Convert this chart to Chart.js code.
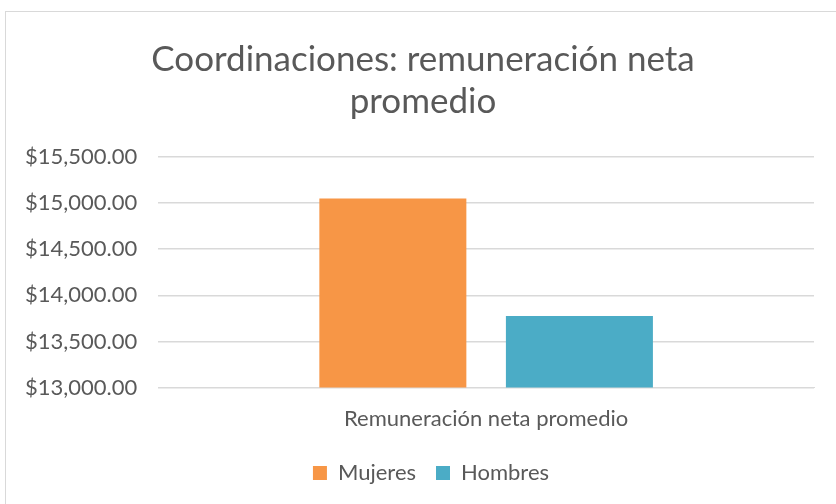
<!DOCTYPE html>
<html>
<head>
<meta charset="utf-8">
<script src="https://cdn.jsdelivr.net/npm/chart.js@4"></script>
<style>
  html, body { margin: 0; padding: 0; background: #fff; }
  #frame { position: absolute; left: 5px; top: 11px; width: 840px; height: 500px; border: 1px solid #d9d9d9; }
  #wrap { position: absolute; left: 0; top: 0; width: 836px; height: 504px; }
</style>
</head>
<body>
<div id="frame"></div>
<div id="wrap"><canvas id="c"></canvas></div>
<script>
// datos
const categorias = ['Remuneración neta promedio'];
const mujeres = [15050];
const hombres = [13775];
const yTicks = [13000, 13500, 14000, 14500, 15000, 15500];

const FONT = 'Lato, "Open Sans", sans-serif';
const GRIS = '#595959';

// corre título y leyenda un poco a la derecha (como en Excel)
const desplazar = {
  id: 'desplazar',
  afterLayout(chart) {
    const t = chart.titleBlock, l = chart.legend;
    if (t) { t.left += 14; t.right += 14; }
    if (l) { l.left += 22; l.right += 22; }
  },
};

new Chart(document.getElementById('c'), {
  type: 'bar',
  data: {
    labels: categorias,
    datasets: [
      { label: 'Mujeres', data: mujeres, backgroundColor: '#f79646' },
      { label: 'Hombres', data: hombres, backgroundColor: '#4bacc6' },
    ],
  },
  plugins: [desplazar],
  options: {
    responsive: true, maintainAspectRatio: false,
    animation: false,
    datasets: { bar: { categoryPercentage: 0.569, barPercentage: 0.788 } },
    layout: { padding: { left: 4, right: 22, top: 39, bottom: 10 } },
    plugins: {
      title: {
        display: true,
        text: ['Coordinaciones: remuneración neta', 'promedio'],
        color: GRIS,
        font: { family: FONT, size: 35, weight: 'normal', lineHeight: 1.2 },
        padding: { top: 0, bottom: 34 },
      },
      legend: {
        position: 'bottom',
        labels: {
          color: GRIS, boxWidth: 14, boxHeight: 14, padding: 20,
          font: { family: FONT, size: 22 },
        },
      },
      tooltip: { enabled: false },
    },
    scales: {
      x: {
        grid: { display: false },
        border: { color: '#d9d9d9' },
        ticks: { color: GRIS, font: { family: FONT, size: 22 }, padding: 10 },
      },
      y: {
        min: yTicks[0], max: yTicks[yTicks.length - 1],
        afterBuildTicks: (axis) => { axis.ticks = yTicks.map((v) => ({ value: v })); },
        grid: { color: '#d9d9d9', lineWidth: 1.5, drawTicks: false },
        border: { display: false },
        ticks: {
          color: GRIS, padding: 21,
          font: { family: FONT, size: 22 },
          callback: (v) => '$' + v.toLocaleString('en-US', { minimumFractionDigits: 2 }),
        },
      },
    },
  },
});
</script>
</body>
</html>
